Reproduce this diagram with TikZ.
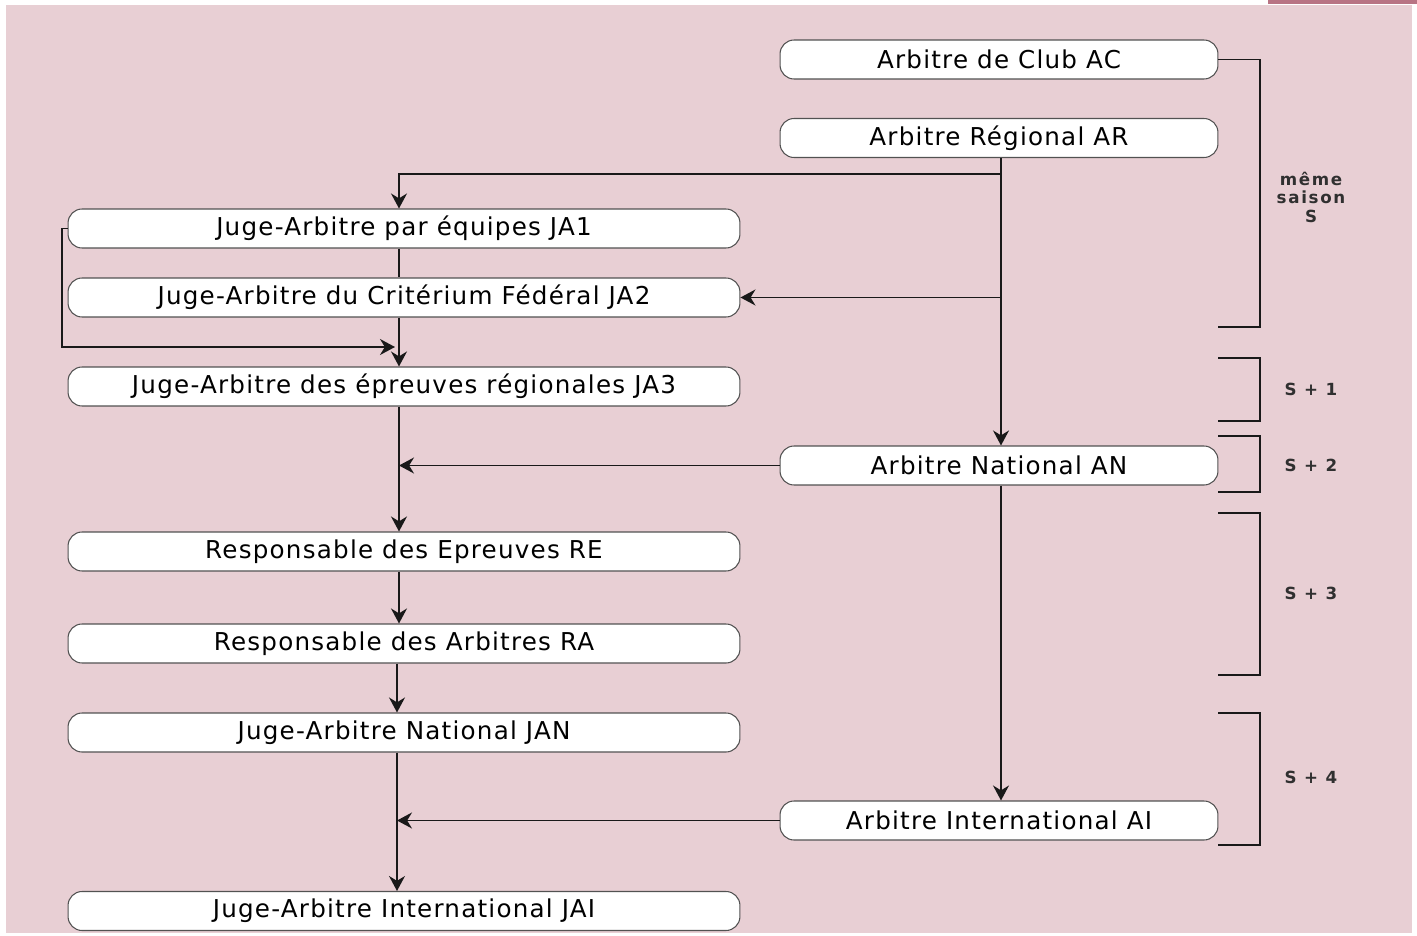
\documentclass[tikz,border=0pt]{standalone}
\usepackage{fontspec}
\setmainfont{DejaVu Sans}
\newfontfamily\espace[LetterSpace=5]{DejaVu Sans}
\newfontfamily\espacesaison[LetterSpace=10]{DejaVu Sans}
\usetikzlibrary{arrows.meta,calc}
\definecolor{fond}{RGB}{232,207,212}
\definecolor{bandeau}{RGB}{184,116,132}
\definecolor{trait}{RGB}{25,25,25}
\tikzset{
  etape/.style={draw=trait!75, fill=white, rounded corners=0.28cm, minimum height=0.78cm, line width=0.6pt, inner sep=0pt, font=\espace\fontsize{14}{16}\selectfont, text=black},
  droite/.style={etape, minimum width=8.76cm},
  gauche/.style={etape, minimum width=13.44cm},
  fleche/.style={draw=trait, line width=0.9pt, -{Stealth[length=0.3cm, width=0.32cm]}},
  lien/.style={draw=trait, line width=0.9pt},
  saison/.style={font=\espacesaison\fontsize{9.5}{10.5}\selectfont\bfseries, text=trait!90, align=center}
}

\begin{document}
\begin{tikzpicture}[x=0.02cm, y=-0.02cm]
		%%%%% FOND %%%%%
		\useasboundingbox (0, 0) rectangle (1417, 936);
		\fill[white] (0, 0) rectangle (1417, 936);
		\fill[fond] (6, 5) rectangle (1412, 933);
		\fill[bandeau] (1268, 0) rectangle (1417, 4);
		
		%%%%% ARBITRES %%%%%
		\node[droite] (ac) at (999, 59.5) {Arbitre de Club AC};
		\node[droite] (ar) at (999, 138) {Arbitre Régional AR};
		\node[droite] (an) at (999, 465.5) {Arbitre National AN};
		\node[droite] (ai) at (999, 820.5) {Arbitre International AI};
		
		%%%%% JUGES-ARBITRES %%%%%
		\node[gauche] (ja1) at (404, 228.5) {Juge-Arbitre par équipes JA1};
		\node[gauche] (ja2) at (404, 297.5) {Juge-Arbitre du Critérium Fédéral JA2};
		\node[gauche] (ja3) at (404, 386.5) {Juge-Arbitre des épreuves régionales JA3};
		\node[gauche] (re) at (404, 551.5) {Responsable des Epreuves RE};
		\node[gauche] (ra) at (404, 643.5) {Responsable des Arbitres RA};
		\node[gauche] (jan) at (404, 732.5) {Juge-Arbitre National JAN};
		\node[gauche] (jai) at (404, 911) {Juge-Arbitre International JAI};
		
		%%%%% POINTS DE JONCTION %%%%%
		\coordinate (p1) at (1001, 174);
		\coordinate (p2) at (1001, 297.5);
		\coordinate (q1) at (399, 174);
		\coordinate (q2) at (399, 347);
		\coordinate (q3) at (399, 465.5);
		\coordinate (q4) at (397, 820.5);
		\coordinate (g1) at (62, 228.5);
		\coordinate (g2) at (62, 347);
		
		%%%%% LIENS %%%%%
		\draw[fleche] (ar.south -| p1) -- (an.north -| p1);
		\draw[fleche] (p1) -- (q1) -- (ja1.north -| q1);
		\draw[fleche] (p2) -- (ja2.east);
		\draw[lien] (ja1.south -| q1) -- (ja2.north -| q1);
		\draw[fleche] (ja2.south -| q1) -- (ja3.north -| q1);
		\draw[fleche] (ja1.west) -- (g1) -- (g2) -- ($(q2)+(-4,0)$);
		\draw[fleche] (ja3.south -| q1) -- (re.north -| q1);
		\draw[fleche] (an.west) -- (q3);
		\draw[fleche] (re.south -| q1) -- (ra.north -| q1);
		\draw[fleche] (ra.south -| q4) -- (jan.north -| q4);
		\draw[fleche] (jan.south -| q4) -- (jai.north -| q4);
		\draw[fleche] (ai.west) -- (q4);
		\draw[fleche] (an.south -| p1) -- (ai.north -| p1);
		
		%%%%% SAISONS %%%%%
		\draw[lien] (ac.east) -- (1260, 59.5) -- (1260, 327) -- (1218, 327);
		\draw[lien] (1218, 358) -- (1260, 358) -- (1260, 421) -- (1218, 421);
		\draw[lien] (1218, 436) -- (1260, 436) -- (1260, 492) -- (1218, 492);
		\draw[lien] (1218, 513) -- (1260, 513) -- (1260, 675) -- (1218, 675);
		\draw[lien] (1218, 713) -- (1260, 713) -- (1260, 845) -- (1218, 845);
		\node[saison] (s0) at (1311, 197) {même\\saison\\S};
		\node[saison] (s1) at (1311, 389) {S + 1};
		\node[saison] (s2) at (1311, 465) {S + 2};
		\node[saison] (s3) at (1311, 593) {S + 3};
		\node[saison] (s4) at (1311, 777) {S + 4};
\end{tikzpicture}
\end{document}
